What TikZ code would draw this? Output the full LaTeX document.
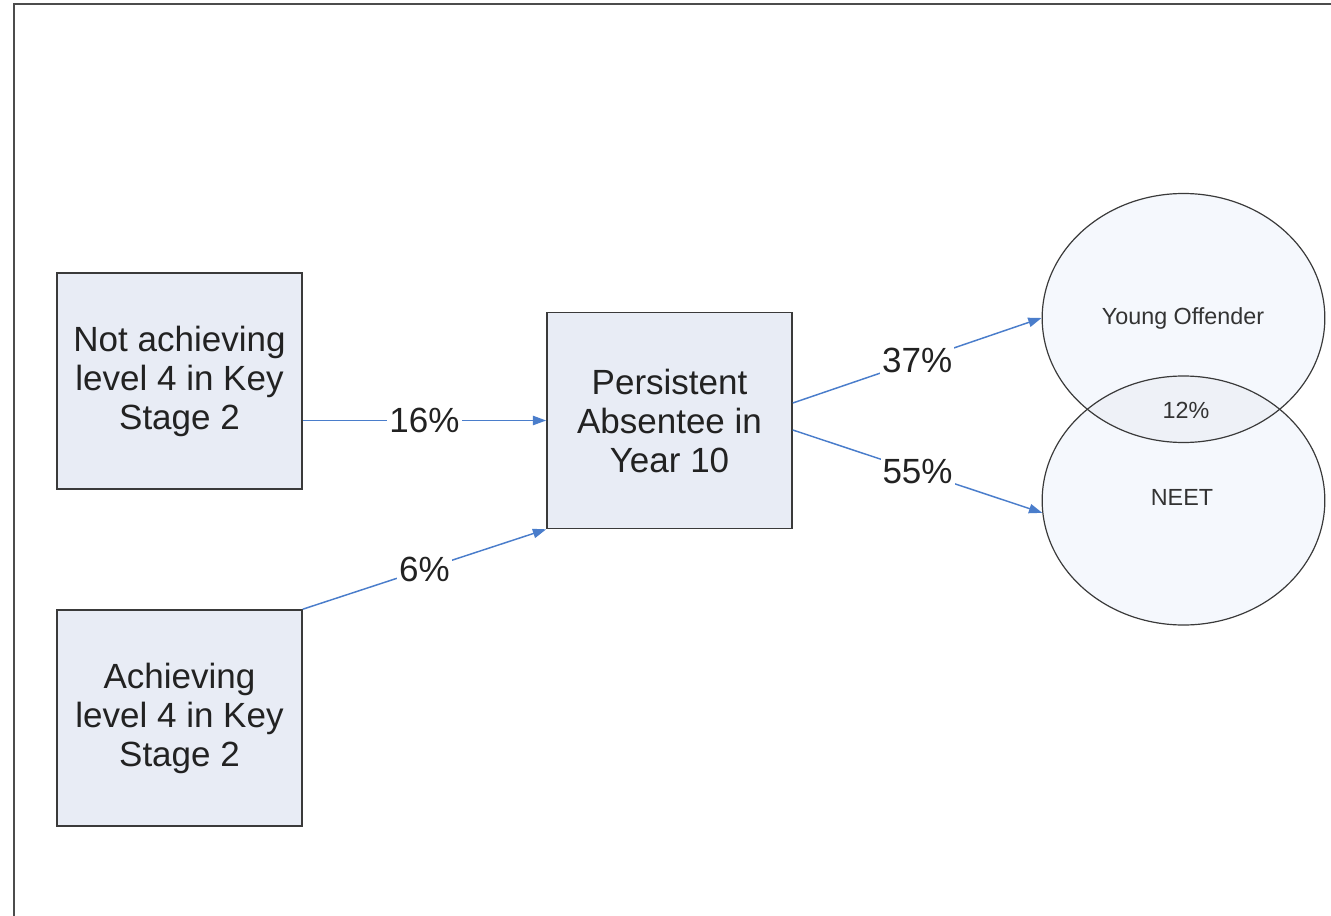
\documentclass[tikz,border=0pt]{standalone}
\usepackage{fontspec}
\setmainfont{Liberation Sans}
\usetikzlibrary{shapes.geometric,arrows.meta,calc,backgrounds}
\definecolor{boxfill}{HTML}{E8ECF5}
\definecolor{circfill}{HTML}{F5F8FD}
\definecolor{interfill}{HTML}{EEF1F7}
\definecolor{arrowblue}{HTML}{4A7DCB}
\definecolor{edgegray}{HTML}{3A3A3A}
\definecolor{txtgray}{HTML}{222222}
\definecolor{venntxt}{HTML}{333333}
\tikzset{
  stepbox/.style={draw=edgegray, line width=1.2pt, fill=boxfill, minimum width=183.75pt,
    minimum height=162pt, inner sep=0pt, align=center, text=txtgray,
    font=\fontsize{26.25pt}{29.25pt}\selectfont},
  venn/.style={ellipse, draw=edgegray, line width=0.9pt, minimum width=212pt,
    minimum height=186.75pt, inner sep=0pt},
  flow/.style={draw=arrowblue, line width=1.1pt, -{Triangle[length=10pt,width=7pt]}},
  pct/.style={fill=white, inner sep=1.5pt, text=txtgray, font=\fontsize{26.25pt}{29.25pt}\selectfont},
  venntext/.style={text=venntxt, font=\fontsize{17.5pt}{20pt}\selectfont}
}
\begin{document}
\begin{tikzpicture}[x=0.75pt, y=-0.75pt]
\useasboundingbox (0,0) rectangle (1331,916);
% page frame
\draw[line width=2.2pt, draw=black!70, line cap=rect] (14,916) coordinate (f1) -- (14,4) coordinate (f2) -- (1331,4) coordinate (f3);
% boxes
\node[stepbox] (A) at (179.5,381) {Not achieving\\level 4 in Key\\Stage 2};
\node[stepbox] (B) at (179.5,718) {Achieving\\level 4 in Key\\Stage 2};
\node[stepbox] (C) at (669.5,420.5) {Persistent\\Absentee in\\Year 10};
% venn
\node[venn] (YO) at (1183.5,318) {};
\node[venn] (NE) at (1183.5,500.5) {};
\begin{scope}[on background layer]
  \fill[circfill] (YO.center) ellipse [x radius=141.3, y radius=124.5];
  \fill[circfill] (NE.center) ellipse [x radius=141.3, y radius=124.5];
  \begin{scope}
    \clip (YO.center) ellipse [x radius=141.3, y radius=124.5];
    \fill[interfill] (NE.center) ellipse [x radius=141.3, y radius=124.5];
  \end{scope}
\end{scope}
\node[venntext] (yot) at (1183,318) {Young Offender};
\node[venntext] (net) at (1182,497) {NEET};
\node[venntext] (it) at (1186,410) {12\%};
% connectors
\coordinate (a1) at (A.east |- C.west);
\coordinate (c1) at ($(C.east)+(0,-17.5)$);
\coordinate (c2) at ($(C.east)+(0,9.5)$);
\draw[flow] (a1) -- node[pct] (l16) {16\%} (C.west);
\draw[flow] (B.north east) -- node[pct] (l6) {6\%} (C.south west);
\draw[flow] (c1) -- node[pct] (l37) {37\%} (YO.west);
\draw[flow] (c2) -- node[pct] (l55) {55\%} (NE.185);
\end{tikzpicture}
\end{document}
